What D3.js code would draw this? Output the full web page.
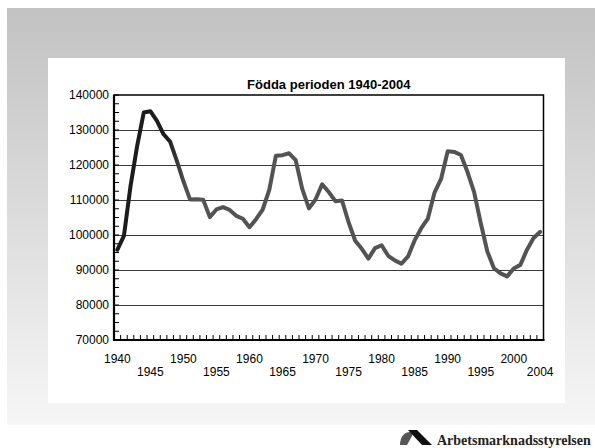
<!DOCTYPE html>
<html lang="sv">
<head>
<meta charset="utf-8">
<style>
body { margin: 0; background: #fff; }
svg { display: block; }
text { font-family: "Liberation Sans", Arial, sans-serif; }
.grid line { stroke: #3a3a3a; stroke-width: 1px; }
.grid path { display: none; }
.ylab path, .ylab line, .xlab path, .xlab line { display: none; }
.ylab text, .xlab text { font-size: 12px; fill: #000; }
</style>
</head>
<body>
<svg width="595" height="448"></svg>

<script src="https://d3js.org/d3.v7.min.js"></script>
<script>

// antal födda per år, 1940-2004
var years = d3.range(1940, 2005);
var births = [
  95778, 99725, 113961, 125392, 134991, 135373, 132597, 128779, 126683, 121272,
  115414, 110168, 110192, 110062, 105102, 107305, 107988, 107168, 105476, 104636,
  102219, 104501, 107284, 112903, 122664, 122806, 123354, 121360, 113087, 107622,
  110150, 114484, 112273, 109663, 109874, 103632, 98345, 96057, 93248, 96255,
  97064, 94065, 92748, 91780, 93871, 98463, 101950, 104699, 112080, 116023,
  123938, 123737, 122848, 117998, 112257, 103422, 95297, 90502, 89028, 88173,
  90441, 91466, 95815, 99157, 100928
];
var yTicks = [70000, 80000, 90000, 100000, 110000, 120000, 130000, 140000];
var xLabels = [1940, 1945, 1950, 1955, 1960, 1965, 1970, 1975, 1980, 1985, 1990, 1995, 2000, 2004];
var title = "Födda perioden 1940-2004";

var svg = d3.select("svg");

// grå bakgrund med gradient
var defs = svg.append("defs");
var bg = defs.append("linearGradient")
    .attr("id", "bg")
    .attr("x1", 0).attr("y1", 0).attr("x2", 0).attr("y2", 1);
bg.append("stop").attr("offset", "0%").attr("stop-color", "#c2c2c2");
bg.append("stop").attr("offset", "100%").attr("stop-color", "#f6f6f6");

svg.append("rect")
    .attr("x", 7).attr("y", 8)
    .attr("width", 588).attr("height", 417)
    .attr("fill", "url(#bg)");

svg.append("rect")
    .attr("x", 48).attr("y", 58)
    .attr("width", 517).attr("height", 345)
    .attr("fill", "#fff");

var pLeft = 114, pRight = 543.5, pTop = 95, pBottom = 340;

var x = d3.scaleBand()
    .domain(years)
    .range([pLeft, pRight])
    .paddingInner(0).paddingOuter(0);

var y = d3.scaleLinear()
    .domain([70000, 140000])
    .range([pBottom, pTop]);

// linjens färg går från svart till grått
var lg = defs.append("linearGradient")
    .attr("id", "lineGrad")
    .attr("gradientUnits", "userSpaceOnUse")
    .attr("x1", x(1948)).attr("y1", 0)
    .attr("x2", x(1951)).attr("y2", 0);
lg.append("stop").attr("offset", "0%").attr("stop-color", "#1c1c1c");
lg.append("stop").attr("offset", "100%").attr("stop-color", "#535353");

// stödlinjer
svg.append("g")
    .attr("class", "grid")
    .attr("transform", "translate(" + pLeft + ",0)")
    .call(d3.axisLeft(y).tickValues(yTicks.slice(1, -1)).tickSize(-(pRight - pLeft)).tickFormat(""));

// ram
svg.append("rect")
    .attr("x", pLeft).attr("y", pTop)
    .attr("width", pRight - pLeft).attr("height", pBottom - pTop)
    .attr("fill", "none")
    .attr("stroke", "#000")
    .attr("stroke-width", 1.5);

// små skalstreck på y-axeln
svg.append("g")
    .selectAll("line")
    .data(d3.range(70000, 140001, 2500))
    .enter().append("line")
    .attr("x1", pLeft).attr("x2", pLeft + 5)
    .attr("y1", function(d) { return y(d); })
    .attr("y2", function(d) { return y(d); })
    .attr("stroke", "#000")
    .attr("stroke-width", 1);

// skalstreck mellan kategorierna
svg.append("g")
    .selectAll("line")
    .data(years.slice(1))
    .enter().append("line")
    .attr("x1", function(d) { return x(d); })
    .attr("x2", function(d) { return x(d); })
    .attr("y1", pBottom).attr("y2", pBottom - 5)
    .attr("stroke", "#000")
    .attr("stroke-width", 1);

// axlar
svg.append("line")
    .attr("x1", pLeft).attr("x2", pLeft)
    .attr("y1", pTop).attr("y2", pBottom + 1)
    .attr("stroke", "#000").attr("stroke-width", 2.2);
svg.append("line")
    .attr("x1", pLeft - 1).attr("x2", pRight + 1)
    .attr("y1", pBottom).attr("y2", pBottom)
    .attr("stroke", "#000").attr("stroke-width", 2.2);

// y-etiketter
svg.append("g")
    .attr("class", "ylab")
    .attr("transform", "translate(" + (pLeft - 5) + ",0)")
    .call(d3.axisLeft(y).tickValues(yTicks).tickSize(0).tickPadding(0).tickFormat(d3.format("d")));

// x-etiketter, förskjutna i två rader
var xa = svg.append("g")
    .attr("class", "xlab")
    .attr("transform", "translate(0," + pBottom + ")")
    .call(d3.axisBottom(x).tickValues(xLabels).tickSize(0).tickPadding(0));
xa.selectAll("text")
    .attr("dy", null)
    .attr("y", function(d, i) { return i % 2 == 0 ? 23 : 36; });

// linjen
var line = d3.line()
    .x(function(d, i) { return x(years[i]) + x.bandwidth() / 2; })
    .y(function(d) { return y(d); });

svg.append("path")
    .datum(births)
    .attr("d", line)
    .attr("fill", "none")
    .attr("stroke", "url(#lineGrad)")
    .attr("stroke-width", 4)
    .attr("stroke-linejoin", "round")
    .attr("stroke-linecap", "round");

svg.append("text")
    .attr("x", (pLeft + pRight) / 2)
    .attr("y", 89)
    .attr("text-anchor", "middle")
    .style("font-size", "13px")
    .style("font-weight", "bold")
    .text(title);

// logga
var logo = svg.append("g").attr("transform", "translate(400,430)");
logo.append("path")
    .attr("d", "M0,15 C0,6 5,2 10,2 C12,2 13,4 12,6 L7,15 Z")
    .attr("fill", "#555");
logo.append("path")
    .attr("d", "M8,0 L17,0 L32,15 L22,15 Z")
    .attr("fill", "#111");
svg.append("text")
    .attr("x", 437)
    .attr("y", 445)
    .style("font-family", "'Liberation Serif', 'Times New Roman', serif")
    .style("font-size", "14px")
    .style("font-weight", "bold")
    .attr("fill", "#222")
    .text("Arbetsmarknadsstyrelsen");

</script>
</body>
</html>
